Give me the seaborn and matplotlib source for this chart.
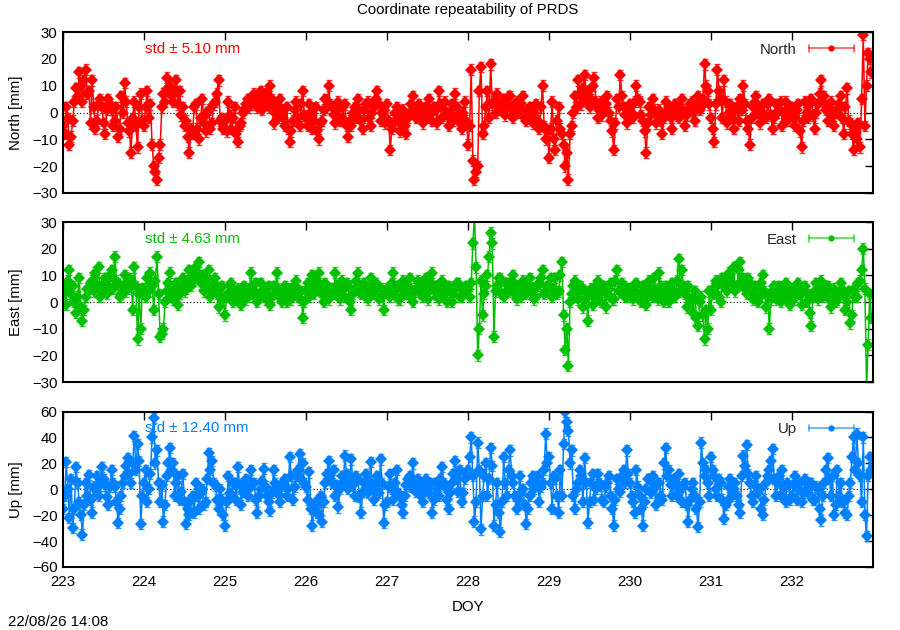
import numpy as np
import pandas as pd
import matplotlib
matplotlib.use("Agg")
import matplotlib.pyplot as plt
from matplotlib.lines import Line2D
from matplotlib.legend_handler import HandlerBase
import seaborn as sns

# ---------------- data ----------------
doy = np.round(np.arange(223.0, 233.0, 0.02), 2)

north = [
    -5,-8, 2,-2, -12,-9, -3,4, 9,6, 15,10, 4,12, 16,7, 8,-4, 12,2, -6,-3, 3,5, 2,-4, -8,1, 5,3, 1,-5, -3,2, -9,-6, 6,0, 11,4, -4,-7, -15,-2, 4,-5, -13,2, 7,-3,
    -5,2, 8,-2, 3,-12, -20,-22, -25,-17, -12,2, 7,4, 13,9, 10,6, 4,8, 12,3, 8,-1, 2,-5, -3,-9, -15,-6, -8,2, 3,-6, -10,-2, 5,-4, -7,0, 1,-6, -4,3, 4,7, 12,-3, -2,-6,
    -3,-7, 4,-1, -6,-2, 2,-8, -11,-5, -4,0, 1,3, 5,2, 3,6, 7,4, 2,5, 8,1, 4,7, 6,2, 10,5, -4,0, 3,-2, 5,1, -2,-5, 2,-6, -11,-7, -3,1, 4,-2, -5,3, 8,-1,
    -2,-5, 3,0, -6,-3, 2,-7, -10,-4, -3,1, 5,2, 10,3, 2,-1, -4,1, 4,-3, -2,2, 3,-5, -9,-3, -5,0, 2,-2, 5,1, -3,-6, 1,3, 4,-2, -5,0, 2,5, 8,3, -3,0, 1,-4,
    3,-3, -14,-6, -4,0, 2,-3, -7,-2, 1,-5, -8,-2, 0,3, 6,1, -2,2, 3,-1, -4,1, 2,-2, 5,0, -3,2, 1,-4, 8,3, -2,1, 4,-1, -5,0, 3,-3, 7,2, -1,-4, -6,0, 4,-3,
    -12,-5, 16,-18, -25,-22, -20,8, 17,-8, -5,2, 8,-2, 18,3, 4,0, 7,2, 1,4, 5,-1, 3,6, 6,1, -2,3, 4,0, 1,3, 6,-2, -3,1, 2,-2, -4,0, 3,-3, -6,2, 10,-5, -10,-7,
    -17,-6, 4,-10, -14,-3, 2,-6, -8,-12, -20,-15, -25,-8, -5,0, 6,2, 12,7, 3,9, 14,5, 8,2, 5,10, 13,4, -2,1, 4,-1, 1,3, 6,0, -3,-7, -14,-4, 5,2, 14,6, 2,-1, -4,1,
    3,0, -2,4, 10,5, 4,-1, -3,-7, -15,-4, 2,-1, 5,1, -4,0, 1,-3, -8,-2, 4,0, 2,-2, -6,1, 3,-1, -2,2, 5,0, -5,-1, 1,3, 4,0, -3,2, 6,1, 2,5, 18,10, 8,3,
    -2,-6, -11,3, 16,8, 5,-2, 12,4, -4,0, 3,-2, -6,1, 2,-3, 5,1, 10,3, -3,-6, -12,-2, 2,4, 6,0, -4,2, 3,-1, -2,3, 5,-1, -6,-2, 3,0, 1,4, -5,0, 4,-3, -2,1,
    2,-2, -5,1, 3,-7, -13,-3, 4,0, -2,3, 5,-1, -6,0, 3,7, 12,4, 6,1, -3,2, 4,-1, -5,0, 1,3, 6,-2, -8,2, 9,-3, -4,-8, -14,-6, -10,-4, -13,5, 29,-5, 10,22, 20,15,
]

east = [
    3,5, -1,8, 12,3, 6,0, -4,2, 9,-2, -7,-3, 2,5, 5,7, 8,4, 11,6, 13,2, 4,7, 9,3, 6,10, 12,5, 17,8, 7,2, 3,6, 10,4, 5,9, 8,-3, 13,6, -14,3, -10,5,
    5,2, 9,4, 11,6, -3,8, 17,3, -13,-12, -10,0, 4,7, 11,2, 1,5, 7,-1, 3,6, 9,4, 5,8, 12,6, 8,10, 13,9, 15,7, 10,4, 6,9, 12,2, 4,7, 9,3, -2,5, 6,1,
    -5,2, 3,6, 7,0, 1,4, 5,2, -1,3, 6,1, 2,5, 11,3, 4,7, 0,2, 7,4, 3,1, 5,6, -1,2, 6,3, 11,5, 2,0, 4,6, 0,3, 5,1, 3,6, 8,2, 1,4, -6,0,
    4,7, 2,5, 10,3, 6,8, 11,4, 3,0, 7,2, 1,5, 5,3, 11,6, 4,1, 8,5, 2,7, 6,0, -3,3, 5,8, 11,4, 3,6, 7,2, 1,5, 9,3, 4,7, 6,1, 2,5, -3,4,
    5,3, 2,7, 11,4, 6,1, 1,5, 8,3, 3,6, 9,2, 0,4, 5,8, 7,3, 2,6, 9,1, 4,7, 11,5, 6,2, 1,4, 8,6, 3,0, 6,4, 0,3, 5,7, 7,2, 2,5, 4,6,
    5,2, 7,22, 33,13, -20,-10, 8,-5, 3,6, 10,17, 26,22, -13,4, 6,9, 9,3, 2,7, 7,5, 4,8, 10,3, 1,6, 6,2, 8,5, 3,7, 9,4, 5,1, 2,6, 7,9, 12,3, 4,6,
    6,9, 2,5, 9,3, 4,10, 15,-5, -18,-10, -24,0, 3,6, 8,2, 1,5, 6,-2, 4,1, -7,3, 5,-1, 2,6, 8,3, 0,4, 6,-2, 3,5, 7,1, 1,8, 12,4, 4,7, 6,2, 2,5,
    5,2, 1,6, 7,3, 3,0, 6,4, -1,2, 8,5, 2,9, 4,1, 11,6, 3,0, 6,3, 0,5, 7,2, 2,8, 16,4, 12,6, 3,-2, 6,1, 1,-4, 4,-6, -9,0, 2,-5, -14,-3, -10,4,
    -3,5, 3,8, 6,2, 0,9, 8,5, 4,11, 10,7, 13,4, 6,12, 15,8, 9,5, 3,9, 7,2, 1,6, 5,0, 2,7, 10,4, -2,3, -10,1, 4,6, 1,3, 6,0, 3,5, 7,2, 2,-1,
    5,1, 2,6, 7,3, -1,4, 6,0, 3,-4, -9,2, 4,7, 1,5, 8,2, 3,6, 6,1, -2,4, 5,0, 1,3, 7,5, 3,-3, 0,4, -8,-5, 5,2, 2,7, 8,12, 20,5, -32,-16, 3,-6,
]

up = [
    -15,-5, 21,0, -22,8, -30,-15, 17,5, -10,-20, -35,-12, 5,-5, 11,-8, -18,2, 0,10, -5,3, 17,8, 3,-6, -12,2, 15,5, 2,-10, -26,-15, -5,5, 10,18, 24,12, 5,20, 41,15, 35,22, -27,-5,
    5,15, -10,0, 12,40, 55,20, 30,5, -10,3, -25,-12, 10,20, 32,15, 20,-5, 5,10, -8,-2, 12,-10, -27,-15, -20,-8, -5,-18, 5,-5, -15,-3, 0,-12, -10,8, 28,15, 22,5, 3,-8, -15,0, -8,-20,
    -28,-10, 10,-3, -5,5, 5,-8, 17,3, -12,-2, 3,8, -5,0, 15,4, 5,-8, -18,-5, 0,6, 16,2, -5,-10, -17,-3, 15,5, 2,-4, -10,3, 5,8, -5,0, 25,10, -8,2, 10,15, 27,8, 20,5,
    2,-8, 13,-15, -28,-12, -10,-18, -20,-5, -25,-10, 5,12, 22,8, 5,15, -5,3, -14,0, 10,5, 26,12, 0,8, 23,3, -5,10, 8,-6, -18,-2, 5,12, -3,6, 21,0, -8,5, 10,-3, 23,5, -26,-12,
    -10,2, 12,0, -8,5, 15,-3, -5,-12, -18,-5, 3,8, 10,2, 20,5, -2,8, 5,-5, -10,0, 8,3, -3,5, -18,-8, 5,0, -5,8, 17,5, 2,-8, -15,-3, 5,12, 22,8, -2,15, -10,-3, 8,12,
    15,25, 40,10, -25,-10, 36,15, -31,-5, 10,20, -5,8, 32,18, -28,-12, 5,-18, -33,-10, 25,5, -5,15, 30,10, 5,-5, -15,-8, 10,-3, 0,-12, -27,-15, -5,5, 10,0, 3,10, -10,2, 5,15, 43,20,
    25,5, -15,10, 8,-5, -18,15, -5,35, 60,52, 45,20, 30,-5, -15,0, 5,15, 10,-10, 24,5, -26,-10, 5,12, -8,0, 12,5, 3,-8, -10,2, 5,10, -5,-15, -28,-8, 8,0, -2,10, 15,5, 30,12,
    5,-5, -10,-18, 15,2, -5,-15, -28,-10, 0,8, 8,-3, 10,0, -12,5, 5,-5, -8,20, 32,10, 15,3, -5,8, 3,-5, 12,0, -10,2, 5,-12, -25,-8, 0,5, -5,-15, -29,-10, 36,20, 10,15, 5,-5,
    25,15, 10,0, -5,8, 5,-8, -23,-12, -10,2, 8,-5, 0,5, -5,-12, -18,10, 26,18, 34,12, 5,-5, -10,3, 10,-3, 0,-15, -20,-8, 5,10, 15,22, 31,8, -5,5, 10,-5, 15,2, -10,5, 3,-8,
    -5,3, 10,-8, 0,5, -10,-3, 8,0, -3,5, 5,-8, -8,2, 0,-15, -24,-5, 5,15, 24,8, -5,10, -20,-12, 15,-5, 5,-10, -10,-18, -20,-5, 5,25, 40,15, 43,20, 10,-10, 40,-20, -36,10, 25,15,
]

north_err = 2.0
east_err = 2.0
up_err = 4.0

components = ["North", "East", "Up"]
ylabels = ["North [mm]", "East [mm]", "Up [mm]"]
std_texts = ["std \u00b1 5.10 mm", "std \u00b1 4.63 mm", "std \u00b1 12.40 mm"]
ylims = [(-30, 30), (-30, 30), (-60, 60)]
yticks = [[-30, -20, -10, 0, 10, 20, 30], [-30, -20, -10, 0, 10, 20, 30],
          [-60, -40, -20, 0, 20, 40, 60]]
xticks = [223, 224, 225, 226, 227, 228, 229, 230, 231, 232]
title = "Coordinate repeatability of PRDS"
xlabel = "DOY"
stamp = "22/08/26 14:08"

# ---------------- style ----------------
sns.set_theme(style="white")
plt.rcParams["font.family"] = ["Liberation Sans", "DejaVu Sans"]
FS = 10.8
plt.rcParams["font.size"] = FS

colors = ["#ff0000", "#00c000", "#0080ff"]
series = [north, east, up]
errs = [north_err, east_err, up_err]


class ErrLineHandler(HandlerBase):
    def create_artists(self, legend, orig_handle, xdescent, ydescent,
                       width, height, fontsize, trans):
        c = orig_handle.get_color()
        y = -ydescent + height / 2.0
        x0 = -xdescent
        x1 = x0 + width
        h = height * 0.3
        arts = [
            Line2D([x0, x1], [y, y], color=c, lw=1.3, alpha=0.6),
            Line2D([x0, x0], [y - h, y + h], color=c, lw=1.3, alpha=0.6),
            Line2D([x1, x1], [y - h, y + h], color=c, lw=1.3, alpha=0.6),
            Line2D([(x0 + x1) / 2], [y], color=c, marker="o", ms=4.5,
                   mew=0, linestyle="none"),
        ]
        for a in arts:
            a.set_transform(trans)
        return arts


fig = plt.figure(figsize=(9, 6.3), dpi=100)
rects = [
    [63 / 900, 1 - 193 / 630, 810 / 900, 161 / 630],
    [63 / 900, 1 - 382 / 630, 810 / 900, 160 / 630],
    [63 / 900, 1 - 567 / 630, 810 / 900, 155.5 / 630],
]

for i in range(3):
    ax = fig.add_axes(rects[i])
    vals = series[i]
    df = pd.DataFrame({"doy": doy[:len(vals)], "val": vals[:len(doy)]})
    ax.axhline(0, color="black", lw=0.8, ls=(0, (1, 2)), zorder=1)
    ax.errorbar(df["doy"], df["val"], yerr=errs[i], fmt="none",
                ecolor=colors[i], elinewidth=1.0, capsize=2.5, alpha=0.8, zorder=2)
    sns.lineplot(data=df, x="doy", y="val", ax=ax, color=colors[i],
                 linewidth=1.1, marker="D", markersize=6.3, markeredgewidth=0,
                 estimator=None, sort=False, zorder=3)
    ax.set_xlim(223, 233)
    ax.set_ylim(*ylims[i])
    ax.set_yticks(yticks[i])
    ax.set_xticks(xticks)
    ax.tick_params(direction="in", length=6, width=1, top=True, right=True,
                   labelsize=FS, colors="black", pad=6)
    ax.tick_params(axis="y", pad=4)
    for sp in ax.spines.values():
        sp.set_color("black")
        sp.set_linewidth(1.5)
        sp.set_zorder(5)
    ax.set_ylabel(ylabels[i], fontsize=FS, color="black")
    ax.yaxis.set_label_coords(-0.050, 0.5)
    if i < 2:
        ax.set_xticklabels([])
        ax.set_xlabel("")
    else:
        ax.set_xlabel(xlabel, fontsize=FS, color="black", labelpad=8)
    ax.text(0.101, 0.895, std_texts[i], transform=ax.transAxes, color=colors[i],
            fontsize=FS, ha="left", va="center")
    proxy = Line2D([], [], color=colors[i])
    ax.legend([proxy], [components[i]], handler_map={Line2D: ErrLineHandler()},
              loc="upper right", frameon=False, markerfirst=False,
              handlelength=3.0, fontsize=FS, borderaxespad=0.6,
              bbox_to_anchor=(0.995, 1.027))

fig.text(468 / 900, 1 - 10 / 630, title, ha="center", va="center",
         fontsize=FS, color="black")
fig.text(8 / 900, 1 - 622 / 630, stamp, ha="left", va="center",
         fontsize=FS, color="black")

fig.savefig("out.png", dpi=100)
